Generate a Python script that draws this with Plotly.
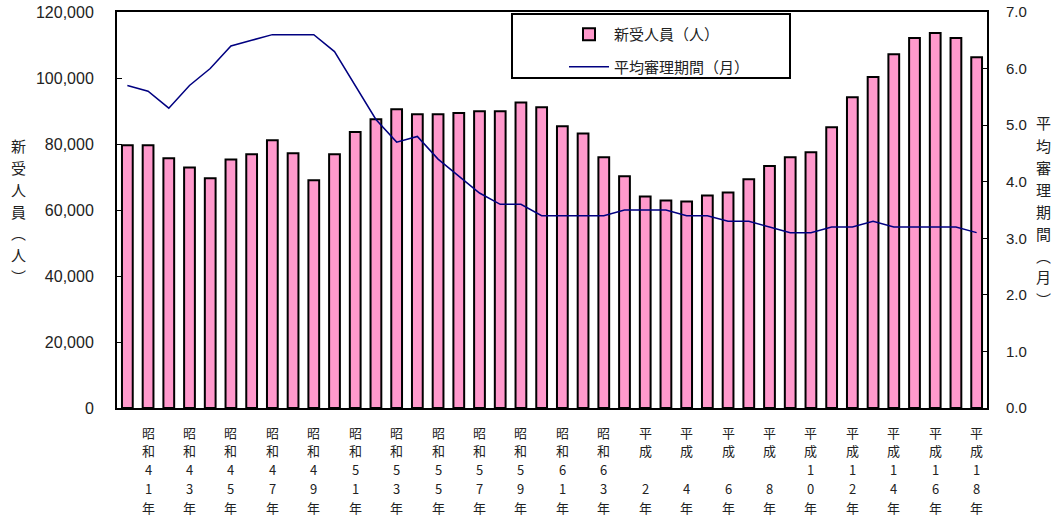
import plotly.graph_objects as go

# ---- data ----
eras = ["昭和"] * 24 + ["平成"] * 18
era_years = list(range(40, 64)) + list(range(1, 19))
new_cases = [79600, 79600, 75700, 72900, 69600, 75300, 76900, 81100, 77200, 69000,
             76900, 83600, 87500, 90500, 89000, 89000, 89400, 89900, 89900, 92600,
             91100, 85400, 83200, 76000, 70200, 64100, 62900, 62600, 64400, 65300,
             69300, 73300, 76000, 77500, 85100, 94200, 100300, 107200, 112100, 113600,
             112100, 106300]
avg_period = [5.7, 5.6, 5.3, 5.7, 6.0, 6.4, 6.5, 6.6, 6.6, 6.6,
              6.3, 5.7, 5.1, 4.7, 4.8, 4.4, 4.1, 3.8, 3.6, 3.6,
              3.4, 3.4, 3.4, 3.4, 3.5, 3.5, 3.5, 3.4, 3.4, 3.3,
              3.3, 3.2, 3.1, 3.1, 3.2, 3.2, 3.3, 3.2, 3.2, 3.2,
              3.2, 3.1]
bar_name = "新受人員（人）"
line_name = "平均審理期間（月）"
left_title = "新受人員︵人︶"
right_title = "平均審理期間︵月︶"

x = list(range(len(new_cases)))


def label_chars(era, yr):
    s = f"{yr:2d}"
    return [era[0], era[1], s[0], s[1], "年"]


tickvals = [i for i in x if i % 2 == 1]
ticklabels = [label_chars(eras[i], era_years[i]) for i in tickvals]

FONT = "Noto Sans CJK JP"
NUMFONT = "Liberation Sans"
TXT = "#222"

fig = go.Figure()
fig.add_trace(go.Bar(
    x=x, y=new_cases, name=bar_name, width=0.52,
    marker=dict(color="#FF99CC", line=dict(color="black", width=2)),
    legendgroup="a",
))
fig.add_trace(go.Scatter(
    x=x, y=avg_period, name=line_name, yaxis="y2", mode="lines",
    line=dict(color="#000080", width=1.5),
    legendgroup="b",
))

W, H = 1061, 519
L, R, T, B = 117, 74, 12, 111
pw, ph = W - L - R, H - T - B


def px_x(p):
    return (p - L) / pw


def px_y(p):
    return (H - B - p) / ph


fig.update_layout(
    width=W, height=H,
    margin=dict(l=L, r=R, t=T, b=B, pad=0, autoexpand=False),
    paper_bgcolor="white", plot_bgcolor="white",
    font=dict(family=FONT, color="black"),
    bargap=0.48,
    xaxis=dict(
        range=[-0.5, len(x) - 0.5], tickmode="array", tickvals=tickvals,
        showticklabels=False,
        showgrid=False, zeroline=False, showline=True, linecolor="black", linewidth=2,
        mirror=True, ticks="", automargin=False,
    ),
    yaxis=dict(
        range=[0, 120000], dtick=20000, tickformat=",", showgrid=False, zeroline=False,
        showline=True, linecolor="black", linewidth=2, ticks="inside", ticklen=5,
        tickcolor="black", tickfont=dict(size=16, family=NUMFONT, color=TXT),
        ticklabelstandoff=18, automargin=False,
    ),
    yaxis2=dict(
        range=[0, 7], dtick=1, tickformat=".1f", overlaying="y", side="right",
        showgrid=False, zeroline=False, showline=True, linecolor="black", linewidth=2,
        ticks="inside", ticklen=5, tickcolor="black",
        tickfont=dict(size=15, family=NUMFONT, color=TXT), ticklabelstandoff=14,
        automargin=False,
    ),
    showlegend=True,
    legend=dict(
        x=px_x(564), y=px_y(18), xanchor="left", yanchor="top",
        bgcolor="rgba(0,0,0,0)", borderwidth=0,
        font=dict(size=15, family=FONT, color=TXT),
        traceorder="grouped", tracegroupgap=10, itemwidth=40,
    ),
)

# legend frame
fig.add_shape(type="rect", xref="paper", yref="paper",
              x0=px_x(512), x1=px_x(790), y0=px_y(78), y1=px_y(14),
              line=dict(color="black", width=2), fillcolor="rgba(0,0,0,0)", layer="above")

# category labels, one character per row (vertical writing)
ROW0, ROWSTEP = 432, 18.8
for tv, chars in zip(tickvals, ticklabels):
    for r, ch in enumerate(chars):
        if ch.strip() == "":
            continue
        fig.add_annotation(text=ch, xref="x", yref="paper", x=tv, y=px_y(ROW0 + r * ROWSTEP),
                           showarrow=False, xanchor="center", yanchor="middle",
                           font=dict(size=13, family=FONT, color=TXT))


# axis titles (vertical stacked)
def stacked(text, xc, yc, step, size):
    n = len(text)
    for k, ch in enumerate(text):
        yy = yc - (n - 1) / 2 * step + k * step
        fig.add_annotation(text=ch, xref="paper", yref="paper", x=px_x(xc), y=px_y(yy),
                           showarrow=False, xanchor="center", yanchor="middle",
                           font=dict(size=15, family=FONT, color=TXT))


stacked(left_title, 18, 211, 21.8, 15)
stacked(right_title, 1043, 211, 22, 15)

fig.write_html(
    "out.html",
    config={"displayModeBar": False},
    post_script="document.body.style.margin='0';document.body.style.overflow='hidden';",
)
